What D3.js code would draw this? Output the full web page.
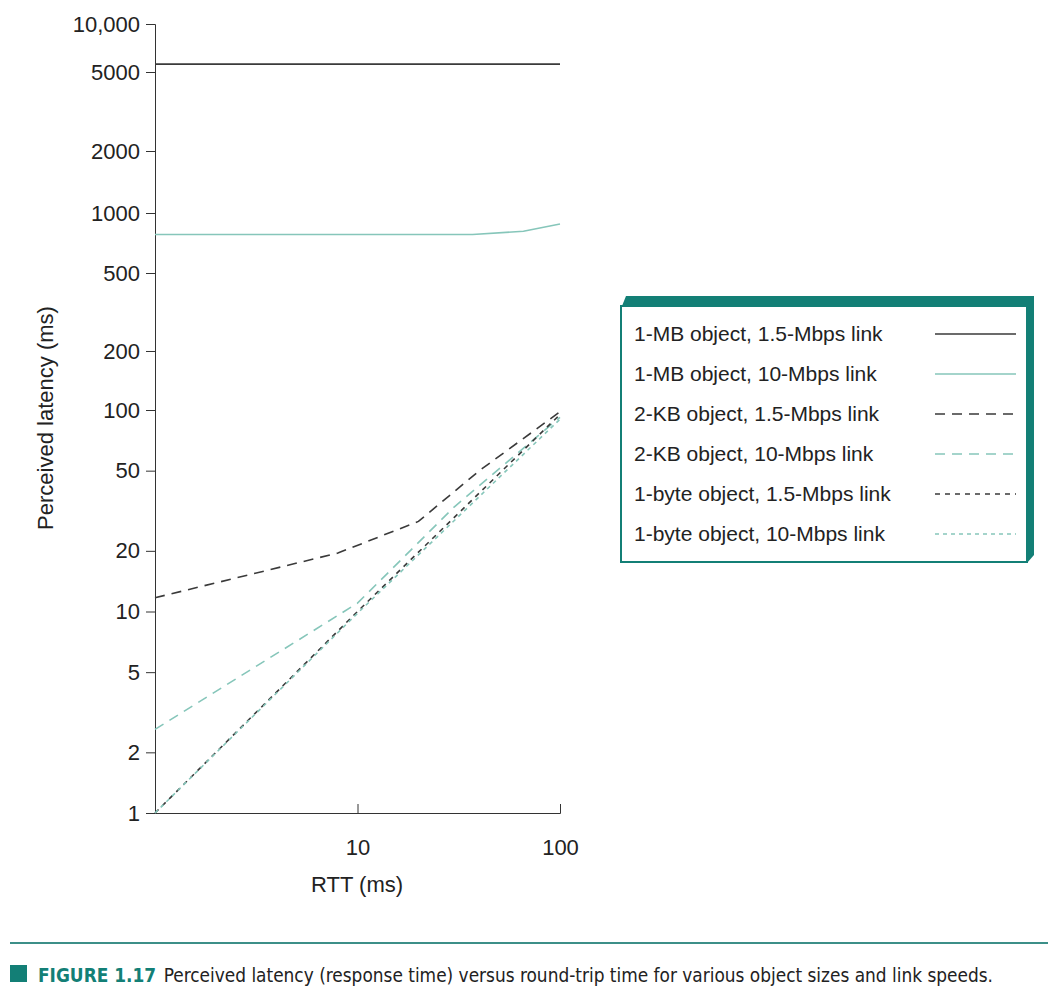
<!DOCTYPE html>
<html><head><meta charset="utf-8">
<script src="https://cdn.jsdelivr.net/npm/d3@7"></script>
<style>body{margin:0;background:#fff}</style></head>
<body><svg id="c" width="1048" height="996"></svg>
<script>
var seriesNames = ["1-MB object, 1.5-Mbps link","1-MB object, 10-Mbps link","2-KB object, 1.5-Mbps link","2-KB object, 10-Mbps link","1-byte object, 1.5-Mbps link","1-byte object, 10-Mbps link"];
var seriesColors = ["#3a3a3a","#86c6ba","#3a3a3a","#86c6ba","#3a3a3a","#86c6ba"];
var seriesDash = [null,null,"10,7","10,7","5,5","4,4"];
var mb15 = [[1,5600],[100,5600]];
var mb10 = [[1,780],[37,780],[66,810],[100,880]];
var kb15 = [[1,11.7],[8,19.5],[20,28],[40,50],[100,98]];
var kb10 = [[1,2.6],[10,11],[30,33],[100,92]];
var b15 = [[1,1],[10,10],[100,95]];
var b10 = [[1,0.97],[10,9.8],[100,90]];
var seriesData = [mb15,mb10,kb15,kb10,b15,b10];
var yTicks = [1,2,5,10,20,50,100,200,500,1000,2000,5000,10000];
var xTicks = [10,100];

var svg = d3.select("#c");
var x = d3.scaleLog().domain([1,100]).range([155,560]);
// the printed axis is slightly uneven in its upper decades
var y = d3.scaleLog().domain([1,100,500,1000,2000,5000,10000]).range([813,410,273,213,151,72,24]);
var font = "'Liberation Sans', Arial, sans-serif";

var yAxis = svg.append("g").attr("transform","translate(155,0)")
  .call(d3.axisLeft(y).tickValues(yTicks).tickFormat(function(d){return d==10000?"10,000":d;}).tickSize(9).tickPadding(6));
var xAxis = svg.append("g").attr("transform","translate(0,813)")
  .call(d3.axisBottom(x).tickValues(xTicks).tickFormat(d3.format("d")).tickSize(-9).tickPadding(26));
[yAxis,xAxis].forEach(function(a){
  a.select(".domain").attr("stroke","#333");
  a.selectAll("line").attr("stroke","#333");
  a.selectAll("text").attr("font-family",font).attr("font-size",22).attr("fill","#222");
});

svg.append("text").attr("x",357).attr("y",892).attr("text-anchor","middle")
  .attr("font-family",font).attr("font-size",22).attr("fill","#222").text("RTT (ms)");
svg.append("text").attr("transform","translate(53,418) rotate(-90)").attr("text-anchor","middle")
  .attr("font-family",font).attr("font-size",22).attr("fill","#222").text("Perceived latency (ms)");

var line = d3.line().x(function(d){return x(d[0]);}).y(function(d){return y(Math.max(d[1],1));});
seriesData.forEach(function(s,i){
  svg.append("path").attr("d",line(s)).attr("fill","none")
    .attr("stroke",seriesColors[i]).attr("stroke-width",1.6)
    .attr("stroke-dasharray",seriesDash[i]);
});

// legend
var lg = svg.append("g");
lg.append("path").attr("d","M622,306 L626,296 L1034,296 L1034,555 L1027,563 L1027,306 Z").attr("fill","#137f76");
lg.append("rect").attr("x",621).attr("y",306).attr("width",406).attr("height",256)
  .attr("fill","#fff").attr("stroke","#137f76").attr("stroke-width",2);
seriesNames.forEach(function(n,i){
  var yy = 333 + i*40;
  lg.append("text").attr("x",634).attr("y",yy+8).attr("font-family",font).attr("font-size",21).attr("fill","#222").text(n);
  lg.append("line").attr("x1",935).attr("x2",1016).attr("y1",yy+1).attr("y2",yy+1)
    .attr("stroke",seriesColors[i]).attr("stroke-width",1.6).attr("stroke-dasharray",seriesDash[i]);
});

// caption
svg.append("line").attr("x1",10).attr("x2",1048).attr("y1",943).attr("y2",943).attr("stroke","#3c8f88").attr("stroke-width",2);
svg.append("rect").attr("x",10).attr("y",965).attr("width",17).attr("height",17).attr("fill","#137f76");
var cap = svg.append("text").attr("x",38).attr("y",982).attr("font-family","'DejaVu Sans Condensed', 'DejaVu Sans'").attr("font-size",20)
  .attr("textLength",955).attr("lengthAdjust","spacingAndGlyphs");
cap.append("tspan").attr("fill","#137f76").attr("font-weight","bold").text("FIGURE 1.17");
cap.append("tspan").attr("fill","#222").attr("dx",8).text("Perceived latency (response time) versus round-trip time for various object sizes and link speeds.");
</script></body></html>
